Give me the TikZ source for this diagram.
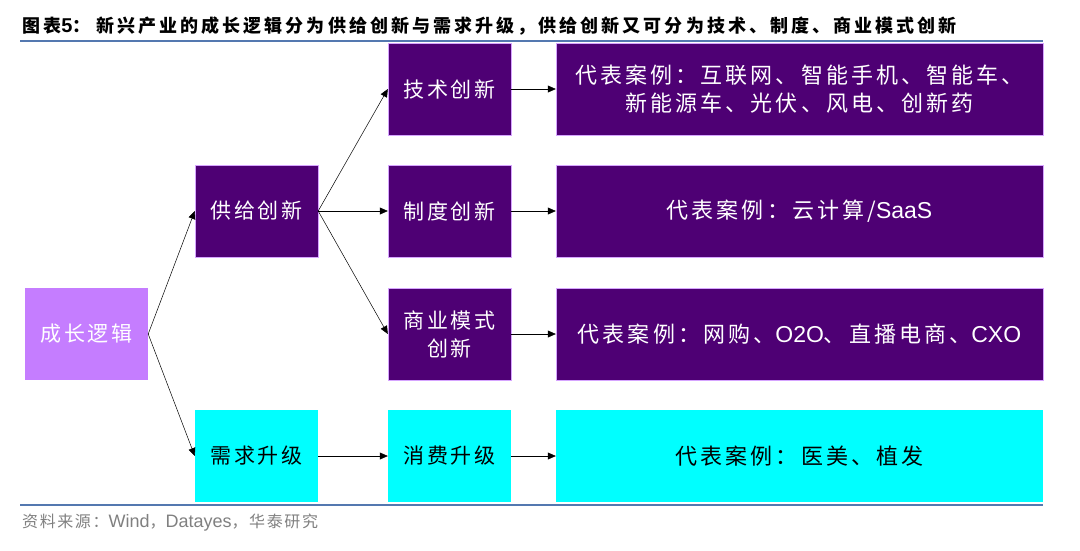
\documentclass[tikz,border=0pt]{standalone}
\usepackage{fontspec}
\setmainfont{Liberation Sans}
\newfontfamily\cjk[LetterSpace=14]{Noto Sans CJK SC}
\newfontfamily\cjktitle[LetterSpace=17]{Noto Sans CJK SC}
\newfontfamily\cjknote[LetterSpace=10]{Noto Sans CJK SC}
\newcommand\eng[1]{{\rmfamily #1}}
\usetikzlibrary{arrows.meta}
\definecolor{deeppurple}{RGB}{78,0,116}
\definecolor{lilac}{RGB}{197,125,255}
\definecolor{aqua}{RGB}{0,255,255}
\definecolor{rulecol}{RGB}{84,120,176}

\begin{document}
\begin{tikzpicture}[x=1pt,y=-1pt,
  box/.style={minimum height=92pt,inner sep=0pt,align=center,
    font=\cjk\fontsize{21}{28}\selectfont},
  darkbox/.style={box,minimum width=123pt,fill=deeppurple,draw=lilac!70,line width=0.4pt,text=white},
  casebox/.style={darkbox,minimum width=487pt,font=\cjk\fontsize{22}{28}\selectfont},
  aquabox/.style={box,minimum width=123pt,fill=aqua,text=black},
  aquacase/.style={aquabox,minimum width=487pt,font=\cjk\fontsize{22}{28}\selectfont},
  arr/.style={-{Triangle[length=8pt,width=7pt]},line width=0.5pt,black}]
  \useasboundingbox (0,0) rectangle (1080,550);

  % title and rules
  \node[anchor=base west,inner sep=0pt] (title) at (22,32)
    {\bfseries\cjktitle\fontsize{18}{20}\selectfont 图表\eng{\fontsize{20}{20}\selectfont 5}：\hspace{6pt}新兴产业的成长逻辑分为供给创新与需求升级，供给创新又可分为技术、制度、商业模式创新};
  \draw[rulecol,line width=1.5pt] (20,41) -- (1043,41);
  \draw[rulecol,line width=1.5pt] (20,505) -- (1043,505);
  \node[anchor=base west,inner sep=0pt,text=gray] (source) at (22,527)
    {\cjknote\fontsize{16}{18}\selectfont 资料来源：\eng{\fontsize{18}{20}\selectfont Wind}，\eng{\fontsize{18}{20}\selectfont Datayes}，华泰研究};

  % boxes
  \node[box,minimum width=123pt,fill=lilac,text=white] (grow) at (86.5,334) {成长逻辑};
  \node[darkbox] (supply) at (256.5,211) {供给创新};
  \node[aquabox] (demand) at (256.5,456) {需求升级};
  \node[darkbox] (tech) at (449.5,89) {技术创新};
  \node[darkbox] (inst) at (449.5,211) {制度创新};
  \node[darkbox] (biz) at (449.5,334) {商业模式\\创新};
  \node[aquabox] (consume) at (449.5,456) {消费升级};
  \node[casebox] (techcase) at (799.5,89) {代表案例：互联网、智能手机、智能车、\\新能源车、光伏、风电、创新药};
  \node[casebox] (instcase) at (799.5,211) {代表案例：云计算/\eng{\fontsize{23}{28}\selectfont SaaS}};
  \node[casebox] (bizcase) at (799.5,334) {代表案例：网购、\eng{\fontsize{23}{28}\selectfont O2O}、直播电商、\eng{\fontsize{23}{28}\selectfont CXO}};
  \node[aquacase] (consumecase) at (799.5,456) {代表案例：医美、植发};

  % connectors
  \draw[arr] (grow.east) -- (supply.west);
  \draw[arr] (grow.east) -- (demand.west);
  \draw[arr] (supply.east) -- (tech.west);
  \draw[arr] (supply.east) -- (inst.west);
  \draw[arr] (supply.east) -- (biz.west);
  \draw[arr] (demand.east) -- (consume.west);
  \draw[arr] (tech.east) -- (techcase.west);
  \draw[arr] (inst.east) -- (instcase.west);
  \draw[arr] (biz.east) -- (bizcase.west);
  \draw[arr] (consume.east) -- (consumecase.west);
\end{tikzpicture}
\end{document}
